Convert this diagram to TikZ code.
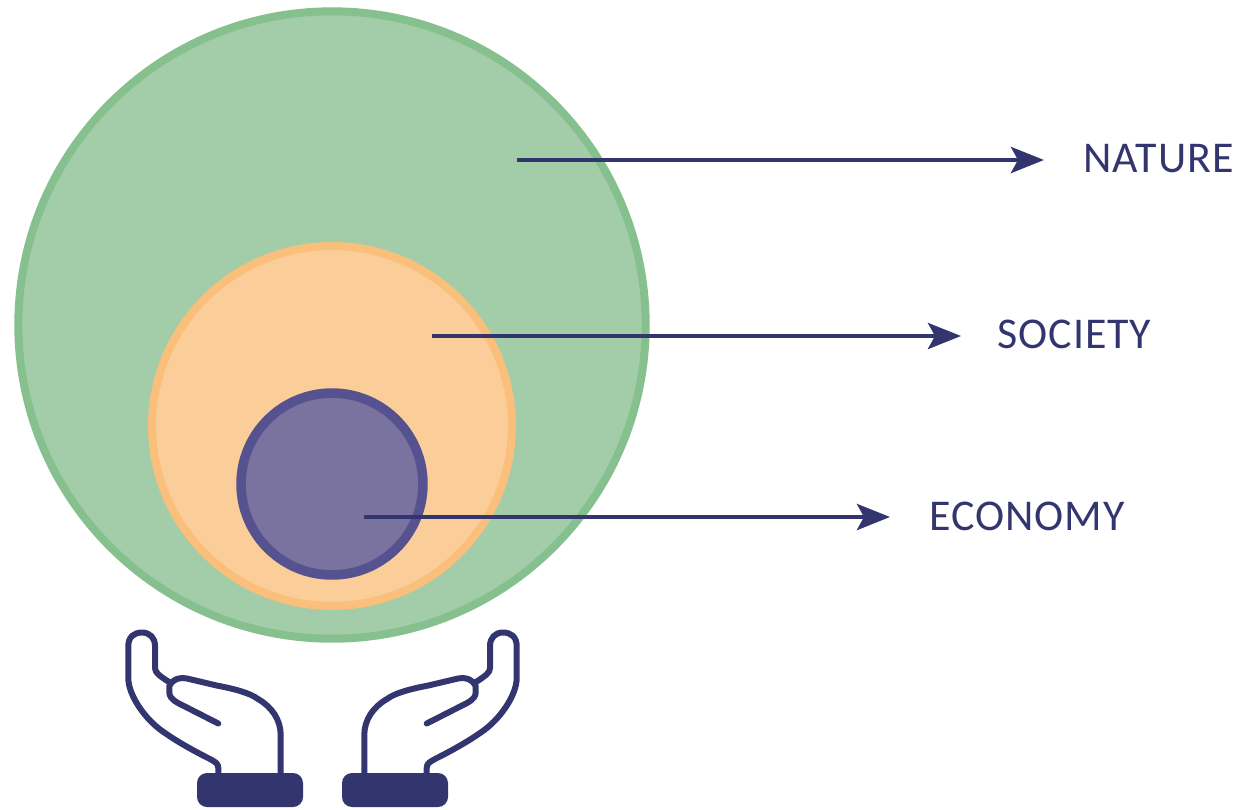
\documentclass[tikz,border=0pt]{standalone}
\usepackage{fontspec}
\setmainfont{Carlito}
\usetikzlibrary{arrows.meta}
\definecolor{navy}{HTML}{33356F}
\definecolor{greenfill}{HTML}{A3CCA8}
\definecolor{greenline}{HTML}{87C08F}
\definecolor{orangefill}{HTML}{FBCD98}
\definecolor{orangeline}{HTML}{F9BF7B}
\definecolor{purplefill}{HTML}{7B739F}
\definecolor{purpleline}{HTML}{56528F}
\newcommand{\drawhandshape}{%
    \draw[handline] (218.3,773) -- (218.3,768) .. controls (218.3,763) and (215,762) .. (210,759)
      .. controls (190,749) and (175,740) .. (165,733)
      .. controls (145,720) and (128.3,695) .. (128.3,678)
      -- (128.3,646) .. controls (128.3,637) and (134,632.5) .. (142,632.5)
      .. controls (150,632.5) and (155,638) .. (155,646)
      -- (155,668) .. controls (155,673) and (160,676) .. (169,682);
    \draw[handline] (218.3,723.5) -- (178,703) .. controls (171,699) and (169.3,696) .. (169.3,692)
      -- (169.3,686) .. controls (172,680) and (178,677) .. (187,678.5)
      -- (216.7,685.5) .. controls (235,689) and (250,693) .. (258,699)
      .. controls (272,707) and (280.7,720) .. (280.7,735) -- (280.7,773);
    \fill[cuff] (197,773) rectangle (303,807);
}
\tikzset{
  x=0.02cm,y=-0.02cm,
  ring/.style={draw=#1line,fill=#1fill,line width=0.16cm,circle,inner sep=0pt},
  pointer/.style={draw=navy,line width=0.095cm,-{Stealth[length=0.66cm,width=0.52cm,inset=0.14cm]}},
  handline/.style={draw=navy,line width=0.12cm,line cap=round,line join=round},
  cuff/.style={fill=navy,rounded corners=0.2cm},
  label/.style={text=navy,font=\fontsize{25pt}{28pt}\selectfont\addfontfeature{LetterSpace=2.3},inner sep=0pt,anchor=west},
}
\begin{document}
\begin{tikzpicture}
\useasboundingbox (0,0) rectangle (1240,809);
\node[ring=green,minimum size=12.55cm] (nature) at (332,325) {};
\node[ring=orange,minimum size=7.2cm] (society) at (332,426) {};
\node[ring=purple,line width=0.19cm,minimum size=3.64cm] (economy) at (332,484) {};
\node[label] (tnature) at (1083,159) {NATURE};
\node[label] (tsociety) at (997,334) {SOCIETY};
\node[label] (teconomy) at (929,516) {ECONOMY};
\coordinate (a1) at (517,160);
\coordinate (b1) at (1044,160);
\coordinate (a2) at (432,336);
\coordinate (b2) at (961,336);
\coordinate (a3) at (364,517);
\coordinate (b3) at (890,517);
\draw[pointer] (a1) -- (b1);
\draw[pointer] (a2) -- (b2);
\draw[pointer] (a3) -- (b3);
\begin{scope}
\drawhandshape
\end{scope}
\begin{scope}[shift={(645,0)},xscale=-1]
\drawhandshape
\end{scope}
\end{tikzpicture}
\end{document}
